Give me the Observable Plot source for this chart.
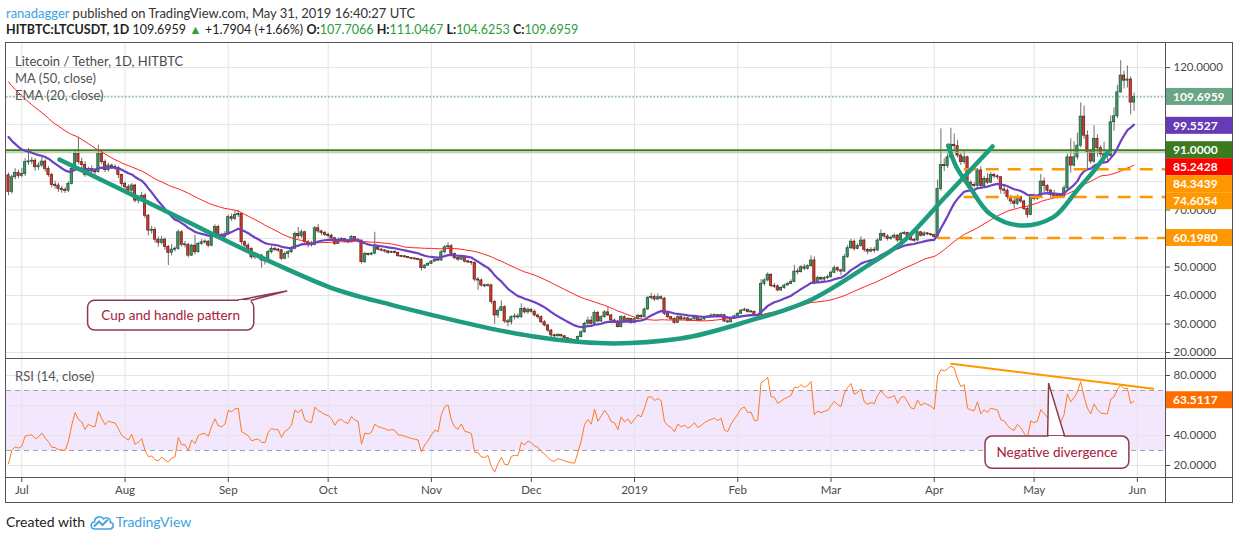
<!DOCTYPE html>
<html>
<head>
<meta charset="utf-8">
<script src="https://cdn.jsdelivr.net/npm/d3@7"></script>
<script src="https://cdn.jsdelivr.net/npm/@observablehq/plot@0.6"></script>
<style>
  html,body{margin:0;padding:0;background:#fff;}
  #wrap{position:relative;width:1234px;height:540px;overflow:hidden;font-family:Lato,"Open Sans",sans-serif;color:#333;background:#fff;}
  .abs{position:absolute;white-space:nowrap;}
  #hdr1{left:6px;top:5px;font-size:13px;line-height:17px;color:#333;}
  #hdr2{left:6px;top:21px;font-size:12.5px;line-height:17px;color:#222;}
  .g{color:#2a9d3c;}
  .leg{left:15px;font-size:13px;line-height:16px;color:#555;}
  #main{left:0;top:42px;}
  #rsi{left:0;top:358px;}
  .ln{position:absolute;background:#555;}
  #foot{left:6px;top:513px;font-size:14px;line-height:18px;color:#222;display:flex;align-items:center;}
</style>
</head>
<body>
<div id="wrap">
  <div id="hdr1" class="abs"><span style="color:#3aa3e3">ranadagger</span> published on TradingView.com, May 31, 2019 16:40:27 UTC</div>
  <div id="hdr2" class="abs"><b>HITBTC:LTCUSDT, 1D</b> 109.6959 <span style="color:#2ea043">&#9650;</span> +1.7904 (+1.66%) <b>O:</b><span class="g">107.7066</span> <b>H:</b><span class="g">111.0467</span> <b>L:</b><span class="g">104.6253</span> <b>C:</b><span class="g">109.6959</span></div>
  <div id="main" class="abs"></div>
  <div id="rsi" class="abs"></div>
  <div class="ln" style="left:5px;top:42px;width:1228px;height:1px"></div>
  <div class="ln" style="left:5px;top:358px;width:1228px;height:1px"></div>
  <div class="ln" style="left:5px;top:477px;width:1228px;height:1px"></div>
  <div class="ln" style="left:5px;top:502px;width:1228px;height:1px"></div>
  <div class="ln" style="left:5px;top:42px;width:1px;height:461px"></div>
  <div class="ln" style="left:1232px;top:42px;width:1px;height:461px"></div>
  <div class="ln" style="left:1165px;top:42px;width:1px;height:461px"></div>
  <div class="abs leg" style="top:53px;color:#4a4a4a">Litecoin / Tether, 1D, HITBTC</div>
  <div class="abs leg" style="top:70px">MA (50, close)</div>
  <div class="abs leg" style="top:87px">EMA (20, close)</div>
  <div class="abs leg" style="top:368px">RSI (14, close)</div>
  <div id="foot" class="abs">Created with&nbsp;<svg width="26" height="16" viewBox="0 0 26 16"><path d="M6 15 C1 15 1 8 5.5 8 C5.5 3 12 1 14.5 5 C17 2.5 22 4 21.5 8.5 C25.5 9 25 15 20.5 15 Z" fill="none" stroke="#45a5df" stroke-width="1.6"/><path d="M5 12.5 L10 7.5 L13.5 11 L19 5.5" fill="none" stroke="#45a5df" stroke-width="2"/></svg><span style="color:#3ea3de;margin-left:1px">TradingView</span></div>
</div>
<script>
// ---------------- DATA ----------------
const DAY = 864e5;
const ORIGIN = Date.UTC(2018, 6, 1);           // Jul 1, 2018
const dayAt = d => new Date(ORIGIN + d * DAY);
const firstCandle = Date.UTC(2018, 5, 27);     // Jun 27, 2018

// closes before the visible window (Apr 25 - Jun 26, 2018), used only to seed MA/EMA/RSI
const warmupCloses = [136,144,142,149,150,147,
  142,150,163,167,171,163,157,151,153,146,136,138,142,141,136,135,129,132,132,136,131,124,116,118,116,115,116,111,119,117,121,
  121,123,125,119,121,121,120,119,117,107,111,103,98,102,97,99,97,99,99,99,97,85,85,84,84,82.2];

// daily closes, Jun 27, 2018 - May 31, 2019 (open = previous close)
const closes = [
  76.3,81.5,83.0,81.9,
  82.6,86.8,87.0,87.3,85.0,85.6,87.0,84.4,82.3,78.8,78.6,77.4,77.0,76.8,79.2,84.4,89.7,86.8,85.8,82.3,84.4,83.5,83.3,89.7,86.8,84.0,85.6,85.0,84.8,82.3,79.2,
  78.0,76.8,78.6,73.3,74.0,75.0,68.0,62.8,63.0,59.6,58.5,59.6,57.0,55.0,56.1,56.4,62.2,57.8,57.8,54.0,57.5,55.2,58.1,58.7,58.9,57.5,61.0,64.0,61.0,60.5,61.5,
  67.5,66.9,68.3,68.6,58.7,57.5,56.4,53.4,53.8,54.0,52.3,52.0,55.2,56.4,56.0,55.9,52.9,54.6,55.2,56.4,61.6,60.8,62.2,58.7,58.1,57.8,63.6,62.5,62.0,61.3,
  61.0,60.1,58.1,59.6,59.8,59.0,58.7,60.5,59.6,59.3,51.7,54.6,54.3,54.7,56.9,56.1,55.8,55.5,55.0,55.2,55.0,53.8,53.7,53.5,53.2,52.9,52.8,52.6,49.6,50.5,51.1,
  51.9,52.6,52.3,55.2,56.9,57.3,54.6,53.1,52.6,53.6,51.9,51.7,51.4,45.6,45.3,43.5,43.3,43.6,37.7,33.0,34.6,35.9,30.9,30.6,32.4,32.6,32.4,35.3,34.1,35.0,
  34.3,33.0,32.4,30.6,29.5,27.7,26.0,25.7,26.1,25.7,25.0,24.6,24.2,24.0,25.4,27.1,30.1,31.2,30.1,33.9,30.9,32.4,34.1,33.0,31.2,30.9,28.9,32.4,30.9,31.8,30.4,
  31.7,32.9,32.4,35.1,39.1,39.5,38.6,39.4,38.9,33.6,32.4,31.8,30.4,32.4,31.6,32.0,31.2,31.6,32.4,31.2,31.6,32.2,32.6,32.9,33.1,32.7,33.1,30.9,30.6,31.8,32.7,
  33.6,34.7,35.0,34.2,34.3,33.0,33.1,44.1,45.3,47.3,43.3,43.2,41.8,42.6,43.5,44.1,44.7,48.4,48.2,49.9,49.4,50.3,52.3,44.7,46.1,45.6,46.1,46.4,
  48.0,49.6,48.8,48.4,53.5,56.6,58.9,56.4,57.4,59.3,56.0,55.4,56.0,55.8,59.3,61.6,60.7,59.9,60.3,61.0,59.3,61.6,61.9,60.8,59.5,59.3,62.2,61.0,61.8,61.5,61.2,
  60.6,77.4,85.8,85.4,88.5,92.9,92.4,89.1,86.8,88.5,79.5,78.8,78.4,83.9,78.4,80.9,79.6,82.3,81.8,81.5,77.2,76.8,74.5,73.0,72.2,74.5,73.0,70.4,68.3,74.8,
  73.9,74.6,80.0,78.4,76.8,75.3,75.0,74.9,74.8,77.6,88.5,85.6,88.5,92.6,102.8,96.1,90.3,87.0,95.0,91.7,89.5,89.1,89.0,100.8,102.9,111.3,117.2,115.4,115.8,107.7066,109.6959
];
const highs = [
  83.0,82.3,84.5,84.0,
  84.6,88.0,91.6,88.4,88.0,86.6,88.6,87.6,85.2,82.9,80.1,79.4,78.3,77.9,79.9,85.1,90.6,95.6,88.2,87.0,85.0,85.5,84.4,92.8,90.5,87.6,86.4,86.1,85.9,85.4,82.6,
  79.8,78.9,79.3,79.0,74.8,76.2,75.8,68.5,64.3,63.8,60.6,60.8,60.2,57.6,57.9,57.1,63.0,62.8,59.0,58.3,58.0,61.2,58.6,59.6,59.5,59.2,61.7,64.8,64.6,61.8,62.4,
  68.2,68.6,69.5,69.9,68.9,59.2,58.4,56.7,54.7,54.6,54.4,52.8,55.9,57.3,57.0,56.5,56.2,55.3,55.8,57.2,62.3,63.9,63.0,62.6,59.4,59.0,64.2,64.9,62.9,62.5,
  61.9,61.5,60.4,60.2,60.3,59.9,59.5,61.0,60.7,59.9,59.4,55.2,54.9,55.1,62.2,57.4,56.4,56.1,55.7,55.6,55.7,55.2,54.1,54.0,53.7,53.4,53.2,53.0,52.8,50.9,51.5,
  52.3,53.1,52.9,55.8,57.6,58.5,57.8,54.9,53.5,54.0,53.9,52.4,52.0,51.8,46.3,45.8,44.0,44.2,43.9,38.2,35.3,38.1,36.4,31.6,32.9,33.6,33.5,37.1,35.9,35.7,
  35.4,34.9,33.5,32.9,31.2,29.9,28.1,26.5,26.7,26.4,25.9,25.3,24.9,24.6,25.8,27.6,30.6,32.4,32.6,34.6,34.4,32.9,34.7,36.0,33.4,31.8,31.3,32.9,32.9,32.3,31.9,
  32.1,33.4,33.2,35.6,39.7,40.8,40.2,40.6,39.9,39.3,34.0,32.7,32.2,32.9,32.8,32.5,32.3,32.0,32.9,32.6,31.9,32.6,33.0,33.6,33.5,33.4,33.5,33.2,31.2,32.2,33.1,
  34.0,35.1,35.6,35.2,34.8,34.5,33.6,45.6,45.9,48.0,47.6,44.3,43.8,43.1,44.0,44.6,45.5,50.6,49.5,50.5,50.8,50.8,53.9,53.6,46.8,46.5,46.6,47.2,
  48.6,50.4,50.1,49.3,54.4,57.6,59.8,59.5,58.1,60.6,59.8,56.6,56.8,56.9,59.9,63.0,61.9,61.4,60.9,61.6,61.4,62.2,62.6,62.2,61.2,60.0,62.9,62.5,62.4,62.1,61.8,
  61.5,80.5,98.5,88.0,89.6,98.7,96.7,94.4,89.8,90.8,88.9,80.3,79.6,84.6,85.2,81.8,82.8,83.2,82.9,82.4,81.8,78.6,77.4,75.2,74.0,75.3,74.9,73.5,71.1,75.5,
  75.6,75.3,82.5,81.3,78.9,77.3,76.9,75.7,75.6,78.5,89.6,95.0,94.0,97.0,107.6,106.5,97.8,91.3,99.6,96.4,92.6,93.8,90.7,103.0,105.9,113.7,122.4,118.8,120.6,116.7,111.0467
];
const lows = [
  75.0,75.6,80.6,81.0,
  81.3,81.8,85.6,85.9,83.6,83.9,85.0,83.4,81.5,77.8,77.4,76.2,75.9,75.8,76.1,78.8,83.8,85.9,84.6,81.5,81.8,82.6,82.0,83.0,85.9,83.1,83.3,84.2,83.9,81.0,78.1,
  76.9,75.9,75.4,72.5,72.1,73.2,67.0,60.9,61.5,58.4,57.0,57.8,55.9,50.5,53.9,55.3,55.9,57.0,56.7,53.2,53.7,54.2,54.9,57.6,58.0,56.8,57.1,60.6,60.2,59.3,59.9,
  61.2,66.0,66.3,67.4,57.6,55.5,55.6,52.7,52.6,53.1,49.6,50.7,51.6,54.6,55.4,55.0,52.3,52.5,53.0,54.8,56.0,59.8,60.1,58.0,56.7,57.0,57.4,61.8,61.0,60.7,
  60.2,59.6,57.5,57.9,59.0,58.5,58.1,58.5,59.1,58.4,51.0,51.3,53.8,54.0,54.3,55.6,55.3,54.9,54.5,54.7,54.6,53.4,53.3,53.1,52.9,52.5,52.4,52.2,48.6,49.2,50.2,
  50.9,51.6,51.9,52.0,54.6,56.3,54.0,52.5,52.0,52.3,51.4,51.2,50.6,44.8,41.8,42.9,42.7,43.0,36.9,29.9,32.0,34.9,30.2,29.0,29.6,31.4,31.7,32.0,33.5,33.4,
  33.8,32.5,31.6,30.1,29.0,27.0,25.2,25.0,25.4,25.2,24.6,24.2,23.5,23.2,23.6,25.1,26.8,29.6,29.7,29.9,30.3,30.6,32.1,32.6,30.7,30.3,28.6,28.7,30.4,30.6,30.0,
  30.1,31.4,31.9,32.2,34.8,38.4,38.0,38.2,38.4,33.0,31.8,31.2,30.0,30.2,31.2,31.4,30.8,31.0,31.4,30.8,31.0,31.3,32.0,32.4,32.6,32.3,32.4,30.5,30.2,30.4,31.6,
  32.5,33.3,34.4,33.8,33.9,32.6,32.7,32.9,43.3,44.8,42.8,42.5,41.2,41.4,42.2,43.3,43.8,44.5,47.2,47.9,48.7,48.9,50.0,43.7,44.3,45.0,44.7,45.6,
  46.2,47.6,48.2,46.9,48.2,53.0,56.1,55.6,56.0,56.9,55.2,54.3,55.0,54.9,55.5,59.0,60.1,59.1,59.4,59.9,58.6,59.0,61.1,60.3,58.9,58.7,59.1,60.5,60.7,61.0,60.8,
  60.1,60.4,76.5,83.5,84.6,87.9,91.2,88.2,85.6,86.0,77.6,76.4,77.8,78.0,77.5,77.9,79.0,79.3,81.0,80.6,75.6,75.4,73.6,71.9,70.5,71.6,72.3,69.8,67.2,68.0,
  73.2,73.4,74.2,76.1,76.0,74.0,74.4,73.9,74.1,74.2,77.2,83.0,85.1,87.6,91.8,94.8,84.5,86.0,86.3,88.5,88.4,86.2,86.7,88.6,97.6,102.1,111.0,112.5,112.8,103.4,104.6253
];

const priceTicks = [20,30,40,50,60,70,80,90,100,110,120];
const rsiTicks = [20,40,60,80];
const rsiBands = [30,70];
const resistance = [91];
const dashedValues = [84.3439, 74.6054, 60.198];
const dashedFromDay = [283, 283, 275];
// right-axis value tags
const tagValues = [109.6959, 99.5527, 91, 85.2428, 84.3439, 74.6054, 60.198];
const tagTexts  = ["109.6959","99.5527","91.0000","85.2428","84.3439","74.6054","60.1980"];
const tagColors = ["#6aa584","#673ab7","#3b7a1f","#ff0000","#ff9800","#ff9800","#ff9800"];
const rsiTagValue = 63.5117, rsiTagText = "63.5117";
// hand-drawn pattern curves (day offset from Jul 1 2018, price)
const cupDays   = [11.3, 45.0, 78.6, 92.7, 110.7, 122.7, 140.8, 152.8, 167.8, 177.7, 197.8, 217.9, 237.7, 254.9, 263.9, 277.7, 291.5];
const cupPrices = [87.7, 68.6, 49.8, 42.8, 36.8, 33.3, 28.4, 25.8, 23.7, 23.2, 24.9, 30.9, 38.9, 51.2, 58.2, 75.1, 92.3];
const handleDays   = [278.2, 280.7, 284.7, 290.7, 299.8, 309.8, 316.8, 322.8, 326.0];
const handlePrices = [92.6, 85.0, 78.0, 68.7, 64.6, 67.5, 76.8, 85.0, 90.2];
const rsiTrendDays = [279.1, 339.8], rsiTrendValues = [87.8, 71.2];
// callouts: box [day1, day2, value1, value2], pointer [[day,value] x3]
const cupCallout = {text: "Cup and handle pattern", box: [19.9, 69.8, 38.2, 27.7], pointer: [[65, 38.2], [79.7, 41.4], [69.2, 38.2]]};
const divCallout = {text: "Negative divergence", box: [289.4, 332.6, 39.3, 17.8], pointer: [[308.2, 39.3], [308.5, 74.4], [313.3, 39.3]]};

// ---------------- INDICATORS ----------------
const all = warmupCloses.concat(closes);
const W = warmupCloses.length;
function sma(v, n){ return v.map((_, i) => i < n - 1 ? null : d3.mean(v.slice(i - n + 1, i + 1))); }
function ema(v, n){ const k = 2/(n+1), out = []; let e = null;
  v.forEach((x, i) => { if (i === n - 1) e = d3.mean(v.slice(0, n)); else if (i >= n) e = x*k + e*(1-k); out.push(i >= n - 1 ? e : null); });
  return out; }
function rsi(v, n){ const out = v.map(() => null); let g = 0, l = 0;
  for (let i = 1; i <= n; i++){ const c = v[i]-v[i-1]; if (c > 0) g += c; else l -= c; }
  g /= n; l /= n; out[n] = 100 - 100/(1 + g/l);
  for (let i = n+1; i < v.length; i++){ const c = v[i]-v[i-1]; g = (g*(n-1) + Math.max(c,0))/n; l = (l*(n-1) + Math.max(-c,0))/n; out[i] = l === 0 ? 100 : 100 - 100/(1+g/l); }
  return out; }
const ma50 = sma(all, 50), ema20 = ema(all, 20), rsi14 = rsi(all, 14);

const candles = closes.map((c, i) => {
  const o = i === 0 ? warmupCloses[W-1] : closes[i-1];
  let lo = Math.min(o, c), hi = Math.max(o, c);
  if (hi - lo < 0.35) { const m = (hi + lo)/2; lo = m - 0.175; hi = m + 0.175; }
  const date = new Date(firstCandle + i*DAY);
  return {date, open: o, close: c, high: highs[i], low: lows[i], bodyLo: lo, bodyHi: hi, up: c >= o,
          x1: new Date(+date - 0.34*DAY), x2: new Date(+date + 0.34*DAY),
          ma: ma50[W+i], ema: ema20[W+i], rsi: rsi14[W+i]};
});
const ups = candles.filter(d => d.up), downs = candles.filter(d => !d.up);
const lastClose = closes[closes.length-1];
const monthTicks = d3.utcMonth.range(new Date(Date.UTC(2018,6,1)), new Date(Date.UTC(2019,6,1)));
const xDomain = [dayAt(-4.6), dayAt(343.45)];
const cup = cupDays.map((d,i) => ({date: dayAt(d), price: cupPrices[i]}));
const handle = handleDays.map((d,i) => ({date: dayAt(d), price: handlePrices[i]}));
const dashed = dashedValues.map((v,i) => ({value: v, from: dayAt(dashedFromDay[i])}));
const rsiTrend = rsiTrendDays.map((d,i) => ({date: dayAt(d), value: rsiTrendValues[i]}));

const FONT = "Lato, 'Open Sans', sans-serif";
const gridStyle = {stroke: "#e4e4e4", strokeOpacity: 1};
const fmt4 = d => d.toFixed(4);

// ---------------- MAIN PANE ----------------
const main = Plot.plot({
  width: 1234, height: 316,
  marginLeft: 6, marginRight: 69, marginTop: 0, marginBottom: 0,
  x: {type: "utc", domain: xDomain, axis: null},
  y: {domain: [17.9, 128.8], axis: null},
  style: {fontFamily: FONT, background: "transparent", overflow: "visible"},
  marks: [
    Plot.gridX(monthTicks, gridStyle),
    Plot.gridY(priceTicks, gridStyle),
    Plot.ruleX(candles, {x: "date", y1: "low", y2: "high", stroke: "#6e6e6e", strokeWidth: 1}),
    Plot.rect(ups, {x1: "x1", x2: "x2", y1: "bodyLo", y2: "bodyHi", fill: "#3e9a68", stroke: "#1f4d34", strokeWidth: 0.7}),
    Plot.rect(downs, {x1: "x1", x2: "x2", y1: "bodyLo", y2: "bodyHi", fill: "#d4392b", stroke: "#5e1b13", strokeWidth: 0.7}),
    Plot.ruleY(resistance, {stroke: "#3f7d22", strokeWidth: 2}),
    Plot.ruleY(resistance, {stroke: "#a3c993", strokeWidth: 1, dy: 2}),
    Plot.line(candles, {x: "date", y: "ma", stroke: "#ff2020", strokeWidth: 1}),
    Plot.line(candles, {x: "date", y: "ema", stroke: "#6c41c2", strokeWidth: 2.2}),
    Plot.ruleY([lastClose], {stroke: "#4f9b75", strokeWidth: 1, strokeDasharray: "1.5,2"}),
    Plot.ruleY(dashed, {y: "value", x1: "from", x2: () => xDomain[1], stroke: "#ff9800", strokeWidth: 2.5, strokeDasharray: "13,9"}),
    Plot.line(cup, {x: "date", y: "price", curve: "monotone-x", stroke: "#1e9c7e", strokeWidth: 4.5, strokeLinecap: "round"}),
    Plot.line(handle, {x: "date", y: "price", curve: "catmull-rom", stroke: "#1e9c7e", strokeWidth: 4.5, strokeLinecap: "round"}),
    Plot.axisY(priceTicks, {anchor: "right", tickSize: 4, tickPadding: 4, tickFormat: fmt4, color: "#4a4a4a", fontSize: 11.5})
  ]
});
document.getElementById("main").appendChild(main);

// ---------------- RSI PANE ----------------
const rsiChart = Plot.plot({
  width: 1234, height: 145,
  marginLeft: 6, marginRight: 69, marginTop: 0, marginBottom: 25,
  x: {type: "utc", domain: xDomain, axis: null},
  y: {domain: [11.33, 91.33], axis: null},
  style: {fontFamily: FONT, background: "transparent", overflow: "visible"},
  marks: [
    Plot.rect([{lo: rsiBands[0], hi: rsiBands[1]}], {x1: () => xDomain[0], x2: () => xDomain[1], y1: "lo", y2: "hi", fill: "#f3e7fd"}),
    Plot.gridX(monthTicks, gridStyle),
    Plot.gridY(rsiTicks, gridStyle),
    Plot.ruleY(rsiBands, {stroke: "#a6a0aa", strokeDasharray: "5,4"}),
    Plot.line(candles, {x: "date", y: "rsi", stroke: "#ff7a22", strokeWidth: 1}),
    Plot.line(rsiTrend, {x: "date", y: "value", stroke: "#ff9800", strokeWidth: 2}),
    Plot.axisY(rsiTicks, {anchor: "right", tickSize: 4, tickPadding: 4, tickFormat: fmt4, color: "#4a4a4a", fontSize: 11.5}),
    Plot.axisX(monthTicks, {anchor: "bottom", tickSize: 4, tickPadding: 3, color: "#4a4a4a", fontSize: 11.5,
      tickFormat: d => d.getUTCMonth() === 0 ? String(d.getUTCFullYear()) : d3.utcFormat("%b")(d)})
  ]
});
document.getElementById("rsi").appendChild(rsiChart);

// ---------------- TAGS & CALLOUTS (positioned through the charts' scales) ----------------
function tags(chart, values, texts, colors, ticks){
  const X = chart.scale("x"), Y = chart.scale("y");
  const left = X.range[1], w = 1232 - left, h = 17;
  const items = values.map((v,i) => ({y: Y.apply(v), t: texts[i], c: colors[i]})).sort((a,b) => a.y - b.y);
  let prev = -Infinity;
  const boxes = [];
  const g = d3.select(chart).append("g").attr("text-anchor", "start");
  for (const it of items){
    const top = Math.max(it.y - h/2, prev); prev = top + h;
    boxes.push([top, top + h]);
    g.append("rect").attr("x", left).attr("y", top).attr("width", w).attr("height", h).attr("fill", it.c);
    g.append("text").attr("x", left + 8).attr("y", top + h/2).attr("dy", "0.35em").attr("fill", "#fff")
      .attr("text-anchor", "start").attr("font-weight", "bold").attr("font-size", 12).attr("font-family", FONT).text(it.t);
  }
  // tick labels whose centre falls under a tag are hidden by it
  const hidden = new Set(ticks.filter(t => boxes.some(([a,b]) => Y.apply(t) >= a && Y.apply(t) <= b)).map(fmt4));
  d3.select(chart).selectAll('g[aria-label="y-axis tick label"] text').filter(function(){ return hidden.has(this.textContent); }).remove();
}
function callout(chart, c){
  const X = chart.scale("x"), Y = chart.scale("y");
  const px = d => X.apply(dayAt(d)), py = v => Y.apply(v);
  const g = d3.select(chart).append("g");
  const stroke = "#8e3a4c";
  const p = c.pointer.map(([d,v]) => [px(d), py(v)]);
  g.append("path").attr("d", `M${p[0]}L${p[1]}L${p[2]}Z`).attr("fill", "#fff").attr("stroke", stroke).attr("stroke-width", 1.5).attr("stroke-linejoin", "round");
  const x1 = px(c.box[0]), x2 = px(c.box[1]), y1 = py(c.box[2]), y2 = py(c.box[3]);
  g.append("rect").attr("x", x1).attr("y", y1).attr("width", x2 - x1).attr("height", y2 - y1).attr("rx", 7)
    .attr("fill", "#fff").attr("stroke", stroke).attr("stroke-width", 1.5);
  g.append("path").attr("d", `M${p[0][0]+1},${p[0][1]+1}L${p[2][0]-1},${p[2][1]+1}`).attr("stroke", "#fff").attr("stroke-width", 2.2);
  g.append("text").attr("x", (x1+x2)/2).attr("y", (y1+y2)/2).attr("dy", "0.35em").attr("text-anchor", "middle")
    .attr("fill", "#a8203a").attr("font-size", 13.5).attr("font-family", FONT).text(c.text);
}
callout(main, cupCallout);
tags(main, tagValues, tagTexts, tagColors, priceTicks);
callout(rsiChart, divCallout);
tags(rsiChart, [rsiTagValue], [rsiTagText], ["#ff6d00"], rsiTicks);
</script>
</body>
</html>
